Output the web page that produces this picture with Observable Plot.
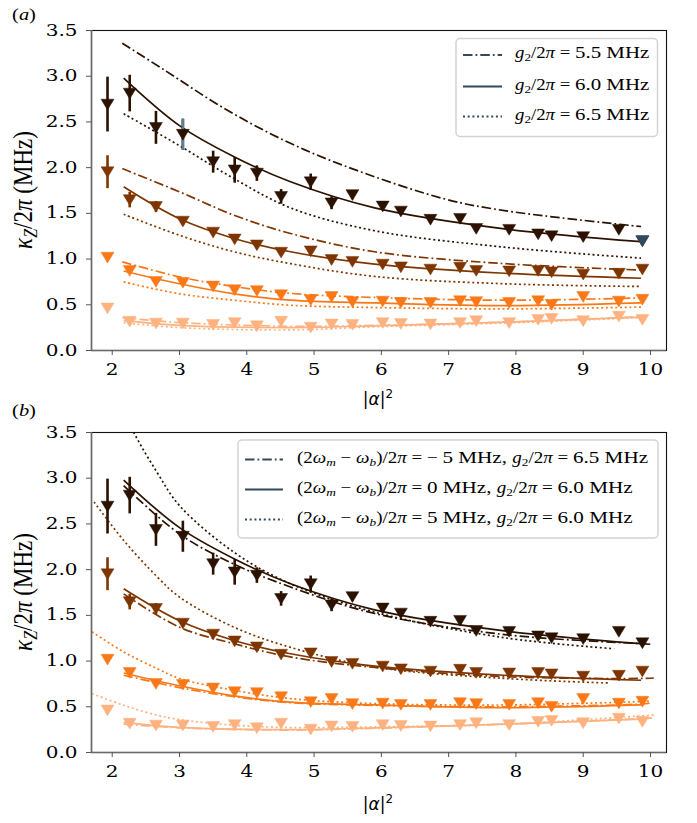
<!DOCTYPE html>
<html><head><meta charset="utf-8">
<script src="https://cdn.jsdelivr.net/npm/d3@7"></script>
<script src="https://cdn.jsdelivr.net/npm/@observablehq/plot@0.6"></script>
<style>
body{margin:0;background:#fff;}
#wrap{position:relative;width:697px;height:823px;overflow:hidden;background:#fff;}
.panel{position:absolute;left:0;}
.t{position:absolute;white-space:nowrap;line-height:1;color:#000;}
.serif{font-family:"Liberation Serif",serif;}
.sans{font-family:"DejaVu Sans",sans-serif;}
sub{font-size:0.7em;vertical-align:-0.28em;line-height:0;}
sup{font-size:0.7em;vertical-align:0.55em;line-height:0;}
.m{font-size:0.9em;}
#overlay{position:absolute;left:0;top:0;}
</style>
</head><body>
<div id="wrap">
  <div id="pa" class="panel" style="top:0"></div>
  <div id="pb" class="panel" style="top:400px"></div>
  <svg id="overlay" width="697" height="823"></svg>
</div>
<script>
// ---------- data ----------
const xVals = [1.93,2.26,2.65,3.05,3.50,3.82,4.15,4.51,4.95,5.26,5.57,6.02,6.29,6.73,7.17,7.41,7.90,8.33,8.53,9.00,9.53,9.88];
const kappaDark   = [2.69,2.81,2.435,2.36,2.06,1.97,1.935,1.68,1.84,1.61,1.70,1.575,1.52,1.43,1.44,1.33,1.32,1.27,1.25,1.24,1.32,1.195];
const kappaBrown  = [1.95,1.645,1.57,1.41,1.29,1.215,1.15,1.07,1.085,0.99,0.97,0.94,0.91,0.885,0.905,0.87,0.865,0.87,0.855,0.83,0.84,0.885];
const kappaOrange = [1.015,0.87,0.75,0.74,0.70,0.66,0.65,0.605,0.55,0.585,0.53,0.535,0.52,0.52,0.54,0.53,0.52,0.54,0.50,0.585,0.535,0.555];
const kappaLight  = [0.46,0.315,0.295,0.295,0.28,0.30,0.265,0.315,0.25,0.285,0.28,0.30,0.29,0.285,0.30,0.32,0.30,0.335,0.345,0.32,0.37,0.335];
const errDark   = [0.30,0.20,0.18,0.17,0.12,0.14,0.085,0.08,0.09,0.07,0.05,0.04,0.04,0.04,0.04,0.04,0.04,0.04,0.04,0.04,0.04,0.04];
const errBrown  = [0.18,0.085,0.06,0.04,0.03,0.03,0.03,0.03,0.03,0.03,0.03,0.03,0.03,0.03,0.03,0.03,0.03,0.03,0.03,0.03,0.03,0.03];
const errOrange = [0.03,0.03,0.02,0.02,0.02,0.02,0.02,0.02,0.02,0.02,0.02,0.02,0.02,0.02,0.02,0.02,0.02,0.02,0.02,0.02,0.02,0.02];
const errLight  = [0.02,0.02,0.02,0.02,0.02,0.02,0.02,0.02,0.02,0.02,0.02,0.02,0.02,0.02,0.02,0.02,0.02,0.02,0.02,0.02,0.02,0.02];

// fits, panel (a): g2/2pi = 5.5 (dash-dot), 6.0 (solid), 6.5 (dotted)
const fitA_dark_55   = [[2.15,3.36],[2.77,3.07],[3.66,2.65],[4.55,2.30],[5.45,2.02],[6.93,1.66],[7.83,1.53],[9.86,1.356]];
const fitA_dark_60   = [[2.17,2.98],[3.0,2.46],[3.81,2.12],[4.65,1.845],[5.9,1.56],[7.83,1.33],[9.86,1.19]];
const fitA_dark_65   = [[2.17,2.59],[3.0,2.24],[3.81,1.88],[4.65,1.56],[5.9,1.31],[7.83,1.13],[9.86,1.01]];
const fitA_brown_55  = [[2.15,1.99],[3.0,1.735],[3.81,1.48],[4.65,1.28],[5.9,1.08],[7.83,0.95],[9.86,0.88]];
const fitA_brown_60  = [[2.17,1.79],[3.0,1.44],[3.81,1.225],[4.65,1.08],[5.9,0.945],[7.83,0.845],[9.86,0.79]];
const fitA_brown_65  = [[2.17,1.49],[3.0,1.26],[3.81,1.08],[4.65,0.95],[5.9,0.81],[7.83,0.73],[9.86,0.70]];
const fitA_orange_55 = [[2.15,0.97],[3.0,0.805],[3.81,0.70],[4.65,0.625],[5.9,0.58],[7.83,0.55],[9.86,0.575]];
const fitA_orange_60 = [[2.17,0.87],[3.0,0.73],[3.81,0.62],[4.65,0.55],[5.9,0.52],[7.83,0.49],[9.86,0.52]];
const fitA_orange_65 = [[2.17,0.75],[3.0,0.62],[3.81,0.55],[4.65,0.495],[5.9,0.47],[7.83,0.455],[9.86,0.475]];
const fitA_light_55  = [[2.15,0.36],[3.0,0.305],[4.65,0.265],[5.9,0.275],[7.83,0.31],[9.86,0.37]];
const fitA_light_60  = [[2.17,0.33],[3.0,0.275],[4.65,0.25],[5.9,0.27],[7.83,0.31],[9.86,0.365]];
const fitA_light_65  = [[2.17,0.305],[3.0,0.25],[4.65,0.225],[5.9,0.26],[7.83,0.30],[9.86,0.36]];

// fits, panel (b): detuning -5 MHz (dash-dot), 0 MHz (solid = fitA_*_60), +5 MHz (dotted)
const fitB_dark_m5   = [[2.17,2.92],[3.0,2.39],[3.81,2.06],[4.65,1.81],[5.9,1.52],[7.83,1.29],[9.86,1.19],[10.02,1.183]];
const fitB_brown_m5  = [[2.17,1.735],[3.0,1.37],[3.81,1.19],[4.65,1.045],[5.9,0.93],[7.83,0.83],[9.86,0.81],[10.05,0.815]];
const fitB_orange_m5 = [[2.17,0.845],[3.0,0.71],[3.81,0.61],[4.65,0.545],[5.9,0.515],[7.83,0.50],[9.86,0.53],[10.0,0.54]];
const fitB_light_m5  = [[2.17,0.31],[3.0,0.27],[4.65,0.245],[5.9,0.265],[7.83,0.31],[9.86,0.37],[10.05,0.38]];
const fitB_dark_p5   = [[1.72,4.6],[2.0,4.0],[2.32,3.5],[2.67,3.06],[3.0,2.70],[3.81,2.19],[4.65,1.845],[5.9,1.535],[7.83,1.255],[9.46,1.135]];
const fitB_brown_p5  = [[1.73,2.74],[2.17,2.32],[2.67,1.92],[3.0,1.70],[3.81,1.37],[4.65,1.15],[5.9,0.935],[7.83,0.81],[9.39,0.76]];
const fitB_orange_p5 = [[1.70,1.32],[2.17,1.10],[2.67,0.917],[3.0,0.81],[3.81,0.68],[4.65,0.59],[5.9,0.535],[7.83,0.52],[10.0,0.56]];
const fitB_light_p5  = [[1.70,0.645],[2.17,0.516],[2.67,0.407],[3.0,0.36],[3.81,0.298],[4.65,0.273],[5.9,0.28],[7.83,0.31],[10.05,0.41]];

const xTicks = [2,3,4,5,6,7,8,9,10];
const yTicks = [0,0.5,1.0,1.5,2.0,2.5,3.0,3.5];
const legendA = [
  '<span class="m"><i>g</i><sub>2</sub>/2<i>π</i> = </span>5.5 MHz',
  '<span class="m"><i>g</i><sub>2</sub>/2<i>π</i> = </span>6.0 MHz',
  '<span class="m"><i>g</i><sub>2</sub>/2<i>π</i> = </span>6.5 MHz'];
const legendB = [
  '<span class="m">(2<i>ω</i><sub><i>m</i></sub> − <i>ω</i><sub><i>b</i></sub>)/2<i>π</i> = − </span>5 MHz, <span class="m"><i>g</i><sub>2</sub>/2<i>π</i> = </span>6.5 MHz',
  '<span class="m">(2<i>ω</i><sub><i>m</i></sub> − <i>ω</i><sub><i>b</i></sub>)/2<i>π</i> = </span>0 MHz, <span class="m"><i>g</i><sub>2</sub>/2<i>π</i> = </span>6.0 MHz',
  '<span class="m">(2<i>ω</i><sub><i>m</i></sub> − <i>ω</i><sub><i>b</i></sub>)/2<i>π</i> = </span>5 MHz, <span class="m"><i>g</i><sub>2</sub>/2<i>π</i> = </span>6.0 MHz'];

// ---------- styles ----------
const C = {dark:"#2b1100", brown:"#7f3500", orange:"#fa7817", light:"#fdb27f"};
const SLATE = "#33495c", SLATE_LIGHT = "#5d7e95";
const DASH = {dashdot:"9.5,3,1.8,3", solid:null, dotted:"2,2.7"};
const SX = 1.25;
const XDOM = [1.692, 10.238];

const triDown = {draw(ctx, size){ const r = Math.sqrt(size/Math.PI); const w = 1.2*r, h = r;
  ctx.moveTo(-w,-h); ctx.lineTo(w,-h); ctx.lineTo(0,h); ctx.closePath(); }};

const series = [
  {y:kappaDark, err:errDark, color:C.dark},
  {y:kappaBrown, err:errBrown, color:C.brown},
  {y:kappaOrange, err:errOrange, color:C.orange},
  {y:kappaLight, err:errLight, color:C.light}];

function makePanel(height, mt, mb, fits, highlight){
  const idx = d3.range(xVals.length);
  const marks = [Plot.frame({stroke:"#111", strokeWidth:1.1})];
  for (const f of fits) marks.push(Plot.line(f.data, {x:d=>d[0], y:d=>d[1], stroke:f.color, strokeWidth:1.7,
      strokeDasharray:DASH[f.style], strokeLinecap:"butt", curve:"catmull-rom", clip:true}));
  for (const s of series) {
    marks.push(Plot.ruleX(idx, {x:i=>xVals[i], y1:i=>s.y[i]-s.err[i], y2:i=>s.y[i]+s.err[i], stroke:s.color, strokeWidth:2.6}));
  }
  if (highlight) marks.push(Plot.ruleX([3], {x:i=>xVals[i], y1:i=>kappaDark[i]-errDark[i], y2:i=>kappaDark[i]+errDark[i], stroke:SLATE_LIGHT, strokeWidth:2.6}));
  for (const s of series) {
    marks.push(Plot.dot(idx, {x:i=>xVals[i], y:i=>s.y[i], symbol:triDown, r:5.4, fill:s.color, stroke:s.color, strokeWidth:0.8, strokeOpacity:0.6}));
  }
  if (highlight) marks.push(Plot.dot([21], {x:i=>xVals[i], y:i=>kappaDark[i], symbol:triDown, r:5.4, fill:SLATE, stroke:SLATE, strokeWidth:0.8, strokeOpacity:0.6}));
  marks.push(Plot.ruleX([XDOM[0]], {stroke:"#6a6a6a", strokeWidth:1.6}));
  marks.push(Plot.ruleY([0], {stroke:"#6a6a6a", strokeWidth:1.6}));
  marks.push(Plot.axisX({ticks:xTicks, tickSize:5, tickPadding:8, label:null, stroke:"#555", fontSize:16, tickFormat:d=>String(d)}));
  marks.push(Plot.axisY({ticks:yTicks, tickSize:5, tickPadding:9, label:null, stroke:"#555", fontSize:16, tickFormat:d=>d.toFixed(1)}));
  const svg = Plot.plot({width:697, height, marginLeft:91, marginRight:31, marginTop:mt, marginBottom:mb,
    style:{fontFamily:"DejaVu Serif", fontSize:"16px", background:"transparent", color:"#000"},
    x:{domain:XDOM}, y:{domain:[0,3.5]}, marks});
  svg.querySelectorAll('g[aria-label$="tick label"] text').forEach(t=>{
    const x = +t.getAttribute('x')||0, y = +t.getAttribute('y')||0;
    const tr = t.getAttribute('transform')||'';
    t.setAttribute('transform', `${tr} translate(${x},${y}) scale(${SX},1) translate(${-x},${-y})`);
  });
  return svg;
}

const fitsA = [
  {data:fitA_dark_55,color:C.dark,style:"dashdot"},{data:fitA_dark_60,color:C.dark,style:"solid"},{data:fitA_dark_65,color:C.dark,style:"dotted"},
  {data:fitA_brown_55,color:C.brown,style:"dashdot"},{data:fitA_brown_60,color:C.brown,style:"solid"},{data:fitA_brown_65,color:C.brown,style:"dotted"},
  {data:fitA_orange_55,color:C.orange,style:"dashdot"},{data:fitA_orange_60,color:C.orange,style:"solid"},{data:fitA_orange_65,color:C.orange,style:"dotted"},
  {data:fitA_light_55,color:C.light,style:"dashdot"},{data:fitA_light_60,color:C.light,style:"solid"},{data:fitA_light_65,color:C.light,style:"dotted"}];
const fitsB = [
  {data:fitB_dark_m5,color:C.dark,style:"dashdot"},{data:fitA_dark_60,color:C.dark,style:"solid"},{data:fitB_dark_p5,color:C.dark,style:"dotted"},
  {data:fitB_brown_m5,color:C.brown,style:"dashdot"},{data:fitA_brown_60,color:C.brown,style:"solid"},{data:fitB_brown_p5,color:C.brown,style:"dotted"},
  {data:fitB_orange_m5,color:C.orange,style:"dashdot"},{data:fitA_orange_60,color:C.orange,style:"solid"},{data:fitB_orange_p5,color:C.orange,style:"dotted"},
  {data:fitB_light_m5,color:C.light,style:"dashdot"},{data:fitA_light_60,color:C.light,style:"solid"},{data:fitB_light_p5,color:C.light,style:"dotted"}];

document.getElementById("pa").append(makePanel(400, 30, 50, fitsA, true));
document.getElementById("pb").append(makePanel(423, 32, 71, fitsB, false));

// ---------- legends & labels ----------
const ov = d3.select("#overlay");
function legend(box, rows, x1, x2, tx, texts, fs, sx){
  ov.append("rect").attr("x",box[0]).attr("y",box[1]).attr("width",box[2]).attr("height",box[3]).attr("rx",4)
    .attr("fill","rgba(255,255,255,0.85)").attr("stroke","#d2d2d2").attr("stroke-width",1.5);
  ["dashdot","solid","dotted"].forEach((st,k)=>{
    ov.append("line").attr("x1",x1).attr("x2",x2).attr("y1",rows[k]).attr("y2",rows[k])
      .attr("stroke",SLATE).attr("stroke-width",1.8).attr("stroke-dasharray",DASH[st]);
    const d = document.createElement("div");
    d.className = "t serif"; d.innerHTML = texts[k];
    d.style.cssText += `left:${tx}px;top:${rows[k]-2}px;font-size:${fs}px;transform:translate(0,-50%) scale(${sx},1);transform-origin:0 50%;`;
    document.getElementById("wrap").append(d);
  });
}
legend([456,38.5,201.5,98],[55,86.5,116.5],463,502,515,legendA,17.4,1.2);
legend([238,440,420,98],[459.5,489.5,519.5],245,283,297,legendB,17.6,1.2);

function label(html, cls, x, y, fs, extra){
  const d = document.createElement("div");
  d.className = "t " + cls; d.innerHTML = html;
  d.style.cssText += `left:${x}px;top:${y}px;font-size:${fs}px;transform:translate(-50%,-50%) ${extra||""};`;
  document.getElementById("wrap").append(d);
}
label("(<i>a</i>)", "serif", 24, 14, 17, `scale(1.2,1)`);
label("(<i>b</i>)", "serif", 24, 410, 17, `scale(1.2,1)`);
label("|<i>α</i>|<sup>2</sup>", "sans", 378, 399, 17, "");
label("|<i>α</i>|<sup>2</sup>", "sans", 378, 804, 17, "");
const ylab = "<i>κ</i><sub><i>Z</i></sub>/2<i>π</i> (MHz)";
label(ylab, "serif", 23, 190, 23, `scale(1.2,1) rotate(-90deg)`);
label(ylab, "serif", 23, 592, 23, `scale(1.2,1) rotate(-90deg)`);
</script>
</body></html>
